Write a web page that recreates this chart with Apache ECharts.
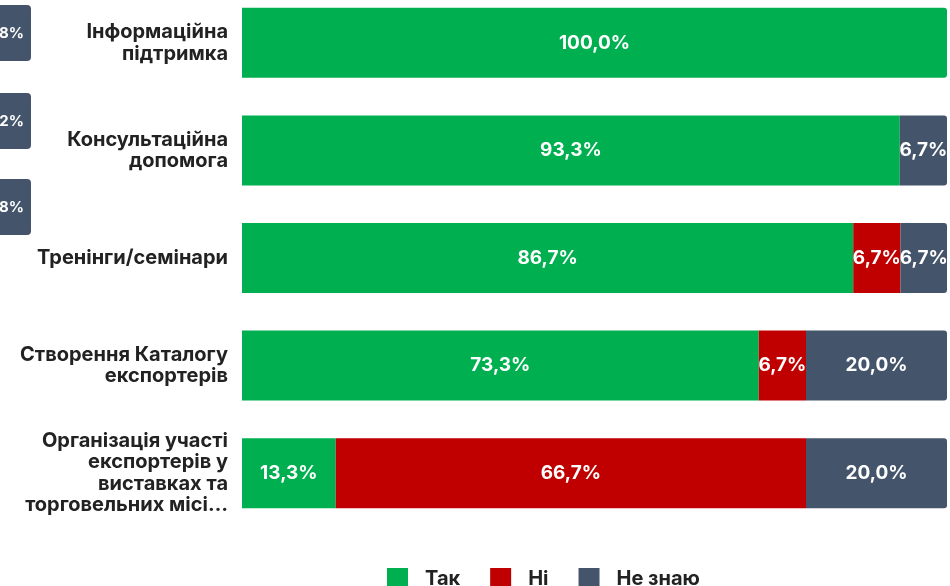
<!DOCTYPE html>
<html>
<head>
<meta charset="utf-8">
<script src="https://cdn.jsdelivr.net/npm/echarts@6/dist/echarts.min.js"></script>
<style>
html,body{margin:0;padding:0;background:#fff;overflow:hidden;}
#chart{width:950px;height:597px;margin-top:-11px;}
</style>
</head>
<body>
<div id="chart"></div>
<script>
var categories = [
  'Інформаційна\nпідтримка',
  'Консультаційна\nдопомога',
  'Тренінги/семінари',
  'Створення Каталогу\nекспортерів',
  'Організація участі\nекспортерів у\nвиставках та\nторговельних місі…'
];
var seriesNames = ['Так', 'Ні', 'Не знаю'];
var valuesYes = [100, 93.3, 86.7, 73.3, 13.3];
var valuesNo = [0, 0, 6.7, 6.7, 66.7];
var valuesDontKnow = [0, 6.7, 6.7, 20, 20];
var sideTags = ['8%', '2%', '8%'];

var FONT = 'Inter';
var colors = ['#00b050', '#c00000', '#44546a'];
var allValues = [valuesYes, valuesNo, valuesDontKnow];

function lastIndex(row) {
  var last = 0;
  for (var s = 0; s < allValues.length; s++) if (allValues[s][row] > 0) last = s;
  return last;
}

var series = allValues.map(function (vals, s) {
  return {
    name: seriesNames[s],
    type: 'bar',
    stack: 'total',
    barWidth: 70,
    itemStyle: { color: colors[s] },
    label: {
      show: true,
      position: 'inside',
      color: '#fff',
      fontFamily: FONT,
      fontWeight: 'bold',
      fontSize: 19,
      formatter: function (p) {
        return p.value > 0 ? p.value.toFixed(1).replace('.', ',') + '%' : '';
      }
    },
    data: vals.map(function (v, i) {
      var d = { value: v };
      if (lastIndex(i) === s) d.itemStyle = { borderRadius: [0, 3, 3, 0] };
      return d;
    })
  };
});

var tagYs = [16, 104, 190];
var graphics = sideTags.map(function (t, i) {
  return {
    type: 'group',
    left: -20,
    top: tagYs[i],
    children: [
      { type: 'rect', shape: { x: 0, y: 0, width: 51, height: 56, r: 4 }, style: { fill: '#44546a' } },
      { type: 'text', x: 44, y: 28, style: { text: t, fill: '#fff', font: 'bold 15px ' + FONT, align: 'right', verticalAlign: 'middle' } }
    ]
  };
});

var chart = echarts.init(document.getElementById('chart'));
chart.setOption({
  animation: false,
  color: colors,
  grid: { left: 242, right: 3, top: 0, bottom: 59, containLabel: false },
  xAxis: { type: 'value', min: 0, max: 100, show: false },
  yAxis: {
    type: 'category',
    inverse: true,
    data: categories,
    axisLine: { show: false },
    axisTick: { show: false },
    axisLabel: {
      margin: 14,
      color: '#222',
      fontFamily: FONT,
      fontWeight: 'bold',
      fontSize: 20,
      lineHeight: 21.5,
      align: 'right'
    }
  },
  legend: {
    bottom: -8,
    left: 382,
    itemWidth: 21,
    itemHeight: 21,
    itemGap: 30,
    icon: 'rect',
    textStyle: { fontFamily: FONT, fontWeight: 'bold', fontSize: 20, color: '#222', padding: [0, 0, 0, 12] },
    data: seriesNames
  },
  graphic: graphics,
  series: series
});
</script>
</body>
</html>
